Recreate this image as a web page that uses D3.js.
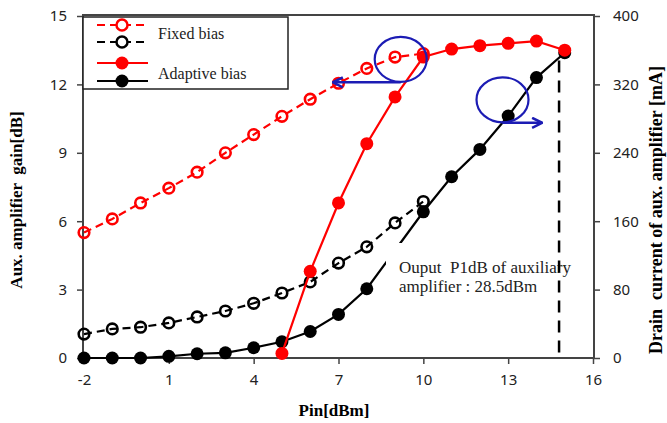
<!DOCTYPE html>
<html>
<head>
<meta charset="utf-8">
<script src="https://cdn.jsdelivr.net/npm/d3@7"></script>
<style>
  body { margin: 0; background: #fff; }
  svg { display: block; }
  text { white-space: pre; }
</style>
</head>
<body>
<svg id="chart" width="667" height="423"></svg>
<script>
// Pin values (dBm)
var pin = [-2, -1, 0, 1, 2, 3, 4, 5, 6, 7, 8, 9, 10, 11, 12, 13, 14, 15];

// gain [dB], left axis
var gainFixed = [5.5, 6.1, 6.8, 7.45, 8.15, 9.0, 9.8, 10.6, 11.35, 12.05, 12.7, 13.2, 13.35];
var gainAdaptive = [null, null, null, null, null, null, null, 0.2, 3.8, 6.8, 9.4, 11.45, 13.2, 13.55, 13.7, 13.8, 13.9, 13.5];

// drain current [mA], right axis
var currFixed = [28, 34, 36, 41, 48, 55, 64, 76, 89, 111, 130, 158, 183];
var currAdaptive = [0, 0, 0, 2, 5, 6, 12, 19, 31, 51, 81, 126, 171, 212, 244, 283, 328, 357];

var xTicks = [-2, 1, 4, 7, 10, 13, 16];
var gainTicks = [0, 3, 6, 9, 12, 15];
var currTicks = [0, 80, 160, 240, 320, 400];

var p1dbPin = 14.8, p1dbTop = 348;
var note = ["Ouput  P1dB of auxiliary", "amplifier : 28.5dBm"];

var plotLeft = 84, plotRight = 593, plotTop = 16, plotBottom = 358;
var svg = d3.select("#chart");

var x = d3.scaleLinear().domain([-2, 16]).range([plotLeft, plotRight]);
var yL = d3.scaleLinear().domain([0, 15]).range([plotBottom, plotTop]);
var yR = d3.scaleLinear().domain([0, 400]).range([plotBottom, plotTop]);

var tickFont = "'Noto Sans', 'Open Sans', sans-serif";
var serif = "'Liberation Serif', 'DejaVu Serif', serif";
var axisColor = "#444";

// frame
svg.append("rect")
    .attr("x", plotLeft - 1).attr("y", plotTop - 1)
    .attr("width", plotRight - plotLeft + 2).attr("height", plotBottom - plotTop + 1)
    .attr("fill", "none").attr("stroke", axisColor).attr("stroke-width", 2);

function styleAxis(g) {
    g.select(".domain").remove();
    g.selectAll(".tick line").attr("stroke", axisColor).attr("stroke-width", 1.5);
    g.selectAll(".tick text")
        .attr("fill", "#222")
        .style("font-family", tickFont)
        .style("font-size", "15px");
}

svg.append("g")
    .attr("transform", `translate(0,${plotBottom})`)
    .call(d3.axisBottom(x).tickValues(xTicks).tickSize(6).tickPadding(10).tickFormat(d => String(d)))
    .call(styleAxis);

svg.append("g")
    .attr("transform", `translate(${plotLeft - 1},0)`)
    .call(d3.axisLeft(yL).tickValues(gainTicks).tickSize(6).tickPadding(10).tickFormat(d => String(d)))
    .call(styleAxis);

svg.append("g")
    .attr("transform", `translate(${plotRight + 1},0)`)
    .call(d3.axisRight(yR).tickValues(currTicks).tickSize(6).tickPadding(13).tickFormat(d => String(d)))
    .call(styleAxis);

// axis titles
svg.append("text")
    .attr("transform", `translate(22,200) rotate(-90)`)
    .attr("text-anchor", "middle")
    .style("font-family", serif).style("font-weight", "bold").style("font-size", "17px")
    .text("Aux. amplifier  gain[dB]");

svg.append("text")
    .attr("transform", `translate(662,210) rotate(-90)`)
    .attr("text-anchor", "middle")
    .style("font-family", serif).style("font-weight", "bold").style("font-size", "18px")
    .text("Drain  current of aux. amplifier [mA]");

svg.append("text")
    .attr("x", 334).attr("y", 416)
    .attr("text-anchor", "middle")
    .style("font-family", serif).style("font-weight", "bold").style("font-size", "17px")
    .text("Pin[dBm]");

// series
function toPoints(vals, yScale) {
    return vals.map((v, i) => ({ x: pin[i], y: v })).filter(d => d.y !== null)
        .map(d => ({ px: x(d.x), py: yScale(d.y) }));
}

var series = [
    { pts: toPoints(currFixed, yR), color: "black", dash: "8,5", open: true },
    { pts: toPoints(gainFixed, yL), color: "red", dash: "8,5", open: true },
    { pts: toPoints(currAdaptive, yR), color: "black", dash: null, open: false },
    { pts: toPoints(gainAdaptive, yL), color: "red", dash: null, open: false }
];

var line = d3.line().x(d => d.px).y(d => d.py);

series.forEach(s => {
    svg.append("path")
        .datum(s.pts)
        .attr("d", line)
        .attr("fill", "none")
        .attr("stroke", s.color)
        .attr("stroke-width", 2.2)
        .attr("stroke-dasharray", s.dash);
    svg.selectAll(null)
        .data(s.pts)
        .enter()
        .append("circle")
        .attr("cx", d => d.px).attr("cy", d => d.py)
        .attr("r", s.open ? 5.3 : 6.5)
        .attr("fill", s.open ? "none" : s.color)
        .attr("stroke", s.color)
        .attr("stroke-width", s.open ? 2.6 : 0);
});

// text note with white background
svg.append("rect")
    .attr("x", 386).attr("y", 243).attr("width", 192).attr("height", 53)
    .attr("fill", "white");
svg.selectAll(null)
    .data(note)
    .enter()
    .append("text")
    .attr("x", 399).attr("y", (d, i) => 273 + i * 19)
    .style("font-family", serif).style("font-size", "17px")
    .attr("fill", "#222")
    .text(d => d);

// P1dB vertical dashed marker
svg.append("line")
    .attr("x1", x(p1dbPin)).attr("x2", x(p1dbPin))
    .attr("y1", yR(p1dbTop)).attr("y2", plotBottom)
    .attr("stroke", "black").attr("stroke-width", 2.5)
    .attr("stroke-dasharray", "12,8");

// blue ellipses and arrows
var blue = "#1c1cb4";
var defs = svg.append("defs");
defs.append("marker")
    .attr("id", "arrow")
    .attr("viewBox", "0 0 10 10")
    .attr("refX", 9).attr("refY", 5)
    .attr("markerWidth", 5).attr("markerHeight", 5)
    .attr("orient", "auto-start-reverse")
    .append("path")
    .attr("d", "M1,1 L9,5 L1,9")
    .attr("fill", "none").attr("stroke", blue).attr("stroke-width", 2);

var callouts = [
    { cx: x(9.2), cy: yL(13.1), tx: x(6.8) },
    { cx: x(12.8), cy: yR(302), tx: x(14.2) }
];
callouts.forEach(c => {
    svg.append("ellipse")
        .attr("cx", c.cx).attr("cy", c.cy)
        .attr("rx", 26).attr("ry", 22.5)
        .attr("fill", "none").attr("stroke", blue).attr("stroke-width", 2.2);
    svg.append("line")
        .attr("x1", c.cx).attr("y1", c.cy + 23)
        .attr("x2", c.tx).attr("y2", c.cy + 23)
        .attr("stroke", blue).attr("stroke-width", 2.5)
        .attr("marker-end", "url(#arrow)");
});

// legend
var legend = svg.append("g");
legend.append("rect")
    .attr("x", plotLeft - 1).attr("y", 17).attr("width", 205).attr("height", 72)
    .attr("fill", "white").attr("stroke", "#222").attr("stroke-width", 1.5);

var legendRows = [
    { y: 25, color: "red", dash: "8,5", open: true },
    { y: 42, color: "black", dash: "8,5", open: true },
    { y: 63, color: "red", dash: null, open: false },
    { y: 81, color: "black", dash: null, open: false }
];
legendRows.forEach(r => {
    legend.append("line")
        .attr("x1", 97).attr("x2", 148).attr("y1", r.y).attr("y2", r.y)
        .attr("stroke", r.color).attr("stroke-width", 2.2)
        .attr("stroke-dasharray", r.dash);
    legend.append("circle")
        .attr("cx", 122).attr("cy", r.y)
        .attr("r", r.open ? 5.5 : 6.5)
        .attr("fill", r.open ? "white" : r.color)
        .attr("stroke", r.color).attr("stroke-width", r.open ? 2.5 : 0);
});
legend.selectAll(null)
    .data([{ t: "Fixed bias", y: 39 }, { t: "Adaptive bias", y: 79 }])
    .enter()
    .append("text")
    .attr("x", 158).attr("y", d => d.y)
    .style("font-family", serif).style("font-size", "16px")
    .attr("fill", "#222")
    .text(d => d.t);
</script>
</body>
</html>
